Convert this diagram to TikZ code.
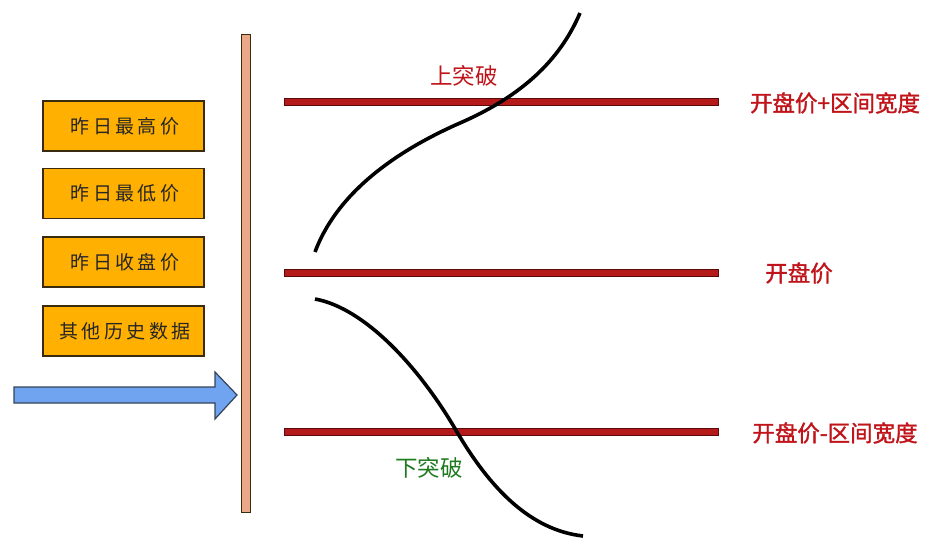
\documentclass[tikz,border=0pt]{standalone}
\usepackage{fontspec}
\newfontfamily\cjk{Noto Sans CJK SC}
\newfontfamily\cjksp[LetterSpace=18]{Noto Sans CJK SC}
\newfontfamily\cjkb[FakeBold=1.5]{Noto Sans CJK SC}
\definecolor{boxfill}{HTML}{FFB000}
\definecolor{boxline}{HTML}{3A2A10}
\definecolor{barfill}{HTML}{E9A888}
\definecolor{arrowfill}{HTML}{70A4F0}
\definecolor{arrowline}{HTML}{34445A}
\definecolor{lvlred}{HTML}{B41A1A}
\definecolor{lvlline}{HTML}{5A0A0A}
\definecolor{labred}{HTML}{C0141A}
\definecolor{labgreen}{HTML}{1E7A1E}
\begin{document}
\begin{tikzpicture}[x=1pt,y=-1pt,
  databox/.style={draw=boxline,line width=1.5pt,fill=boxfill,minimum width=161pt,minimum height=50pt,inner sep=0pt,font=\cjksp\fontsize{19}{19}\selectfont,text=black!85},
  lvl/.style={draw=lvlline,line width=0.8pt,fill=lvlred},
  lvllabel/.style={text=labred,font=\cjkb\fontsize{22.5}{22.5}\selectfont,inner sep=0pt},
  brk/.style={font=\cjk\fontsize{22.5}{22.5}\selectfont,inner sep=0pt},
  price/.style={line width=3.6pt,black}]
\useasboundingbox[fill=white] (0,0) rectangle (934,538);
% data boxes
\node[databox] (hi) at (123.5,126) {\hspace{3pt}昨日最高价};
\node[databox] (lo) at (123.5,193.5) {\hspace{3pt}昨日最低价};
\node[databox] (cl) at (123.5,262) {\hspace{3pt}昨日收盘价};
\node[databox] (ot) at (123.5,331) {\hspace{3pt}其他历史数据};
% vertical bar
\draw[draw=boxline,line width=1pt,fill=barfill] (241,34) rectangle (250,512);
% arrow
\draw[draw=arrowline,line width=1.2pt,fill=arrowfill]
  (14,387) -- (215,387) -- (215,372) -- (237,395) -- (215,419) -- (215,403) -- (14,403) -- cycle;
% level lines
\draw[lvl] (284,98.5) rectangle (718,105.5);
\draw[lvl] (284,269.5) rectangle (718,276.5);
\draw[lvl] (284,428.5) rectangle (718,435.5);
% price curves
\draw[price] (315,252) .. controls (340,185) and (410,145) .. (460,123)
  .. controls (522,96) and (560,60) .. (580,13);
\draw[price] (315,299) .. controls (365,308) and (420,368) .. (457,432)
  .. controls (490,488) and (530,530) .. (583,536);
% labels
\node[lvllabel] (up) at (835,103) {开盘价+区间宽度};
\node[lvllabel] (op) at (799,273) {开盘价};
\node[lvllabel] (dn) at (835,433) {开盘价-区间宽度};
\node[brk,text=labred] (ub) at (464,76) {上突破};
\node[brk,text=labgreen] (db) at (429,468) {下突破};
\end{tikzpicture}
\end{document}
